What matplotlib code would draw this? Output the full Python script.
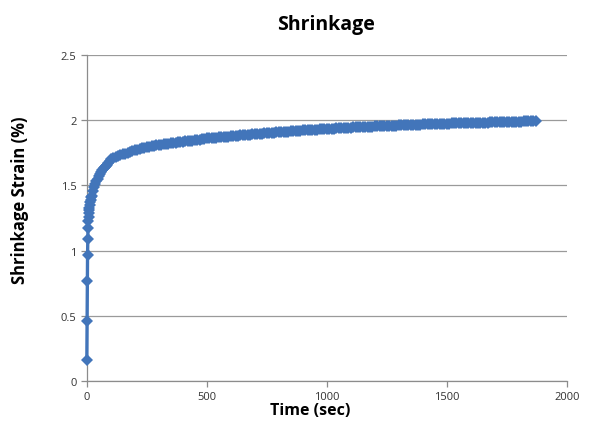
import matplotlib.pyplot as plt

# Curva de contraccion (tiempo en s, deformacion en %)
tiempo_inicio = [0, 1, 2, 3, 4, 5, 6, 7, 8, 9, 10, 12, 14, 16, 18,
                 20, 25, 30, 35, 40, 45, 50, 55, 60, 65, 70, 75, 80, 85, 90, 95]
deform_inicio = [0.16, 0.46, 0.77, 0.97, 1.09, 1.17, 1.23, 1.26, 1.29, 1.31, 1.33,
                 1.35, 1.37, 1.39, 1.41,
                 1.42, 1.455, 1.485, 1.51, 1.53, 1.55, 1.57, 1.585, 1.60, 1.615,
                 1.63, 1.64, 1.65, 1.66, 1.675, 1.69]

# de 100 s a 1870 s, cada 10 s
tiempo_resto = list(range(100, 1871, 10))
deform_resto = [
    1.700, 1.708, 1.716, 1.723, 1.730, 1.737, 1.744, 1.750, 1.756, 1.763,
    1.770, 1.775, 1.779, 1.783, 1.787, 1.791, 1.795, 1.799, 1.803, 1.806,
    1.810, 1.813, 1.815, 1.818, 1.820, 1.822, 1.825, 1.827, 1.830, 1.832,
    1.835, 1.838, 1.840, 1.842, 1.844, 1.846, 1.848, 1.851, 1.853, 1.856,
    1.860, 1.862, 1.864, 1.865, 1.867, 1.868, 1.870, 1.871, 1.873, 1.874,
    1.876, 1.878, 1.879, 1.881, 1.883, 1.884, 1.886, 1.888, 1.889, 1.891,
    1.893, 1.894, 1.896, 1.897, 1.899, 1.900, 1.902, 1.903, 1.905, 1.906,
    1.908, 1.909, 1.911, 1.912, 1.913, 1.915, 1.916, 1.917, 1.919, 1.920,
    1.921, 1.922, 1.924, 1.925, 1.926, 1.927, 1.928, 1.930, 1.931, 1.932,
    1.933, 1.934, 1.935, 1.936, 1.937, 1.938, 1.939, 1.940, 1.941, 1.942,
    1.943, 1.944, 1.945, 1.946, 1.947, 1.947, 1.948, 1.949, 1.950, 1.951,
    1.952, 1.953, 1.954, 1.954, 1.955, 1.956, 1.957, 1.957, 1.958, 1.959,
    1.960, 1.961, 1.961, 1.962, 1.963, 1.963, 1.964, 1.965, 1.965, 1.966,
    1.967, 1.968, 1.968, 1.969, 1.969, 1.970, 1.971, 1.971, 1.972, 1.973,
    1.974, 1.974, 1.975, 1.975, 1.976, 1.976, 1.977, 1.977, 1.978, 1.978,
    1.979, 1.979, 1.980, 1.980, 1.981, 1.981, 1.982, 1.982, 1.983, 1.983,
    1.984, 1.984, 1.985, 1.985, 1.986, 1.986, 1.987, 1.987, 1.988, 1.988,
    1.989, 1.989, 1.990, 1.990, 1.991, 1.991, 1.992, 1.992]

tiempo = tiempo_inicio + tiempo_resto
deformacion = deform_inicio + deform_resto

xticks = [0, 500, 1000, 1500, 2000]
yticks = [0, 0.5, 1, 1.5, 2, 2.5]
ylabels = ['0', '0.5', '1', '1.5', '2', '2.5']

plt.rcParams['font.family'] = ['Open Sans', 'DejaVu Sans']

fig = plt.figure(figsize=(6.03, 4.27), dpi=100)
ax = fig.add_axes([0.144, 0.1054, 0.796, 0.7635])

ax.plot(tiempo, deformacion, color='#4275BA', lw=2.4, marker='D', markersize=6.6,
        markeredgewidth=0, zorder=3, clip_on=False)

ax.set_xlim(0, 2000)
ax.set_ylim(0, 2.5)
ax.set_xticks(xticks)
ax.set_xticklabels([str(v) for v in xticks])
ax.set_yticks(yticks)
ax.set_yticklabels(ylabels)

ax.yaxis.grid(True, color='#9a9a9a', lw=0.9)
ax.set_axisbelow(True)
for s in ['top', 'right']:
    ax.spines[s].set_visible(False)
for s in ['left', 'bottom']:
    ax.spines[s].set_color('#8c8c8c')
    ax.spines[s].set_linewidth(0.9)
ax.tick_params(axis='both', colors='#8c8c8c', labelcolor='#333333',
               labelsize=8, length=4, width=0.9, direction='out')

# titulo y etiquetas colocados como en el original
fig.text(326 / 603, 1 - 25 / 427, 'Shrinkage', fontsize=14, fontweight='bold',
         ha='center', va='center')
fig.text(310 / 603, 1 - 411 / 427, 'Time (sec)', fontsize=11.5, fontweight='bold',
         ha='center', va='center')
fig.text(20 / 603, 1 - 200 / 427, 'Shrinkage Strain (%)', fontsize=12,
         fontweight='bold', rotation=90, ha='center', va='center')

fig.savefig('out.png', dpi=100)
